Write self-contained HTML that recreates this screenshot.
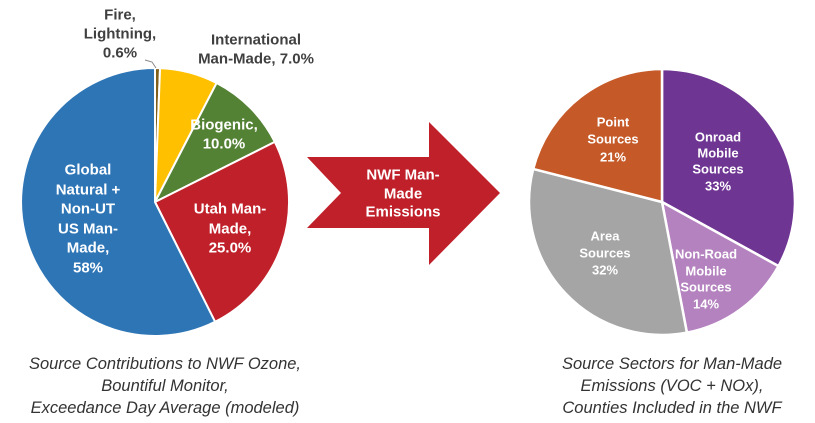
<!DOCTYPE html>
<html><head><meta charset="utf-8"><style>
html,body{margin:0;padding:0;background:#fff;}
svg{display:block;}
.b{font-family:"Liberation Sans",sans-serif;font-weight:bold;text-anchor:middle;dominant-baseline:central;}
.cap{font-family:"Liberation Sans",sans-serif;font-style:italic;font-size:16.5px;fill:#333;text-anchor:middle;}
</style></head><body>
<svg width="815" height="423" viewBox="0 0 815 423">
<g stroke="#fff" stroke-width="2" stroke-linejoin="round">
<path d="M155,202 L155,68 A134,134 0 0 1 160.05,68.1 Z" fill="#7F5F1A"/>
<path d="M155,202 L160.05,68.1 A134,134 0 0 1 216.6,83 Z" fill="#FFC000"/>
<path d="M155,202 L216.6,83 A134,134 0 0 1 274.8,141.9 Z" fill="#548235"/>
<path d="M155,202 L274.8,141.9 A134,134 0 0 1 215.1,321.8 Z" fill="#C0202A"/>
<path d="M155,202 L215.1,321.8 A134,134 0 1 1 155,68 Z" fill="#2E75B6"/>
</g>
<polyline points="145,60 152,62 156,68" fill="none" stroke="#888" stroke-width="1"/>
<g stroke="#fff" stroke-width="2.5" stroke-linejoin="round">
<path d="M662,202 L662,69 A133,133 0 0 1 778.5,266.1 Z" fill="#6F3593"/>
<path d="M662,202 L778.5,266.1 A133,133 0 0 1 686.9,332.6 Z" fill="#B482BF"/>
<path d="M662,202 L686.9,332.6 A133,133 0 0 1 533.2,168.9 Z" fill="#A5A5A5"/>
<path d="M662,202 L533.2,168.9 A133,133 0 0 1 662,69 Z" fill="#C55A28"/>
</g>
<polygon points="307,157 429,157 429,122 500,193 429,265 429,228 307,228 341,193" fill="#C0202A"/>
<g class="b" font-size="15" fill="#fff">
<text x="403" y="175">NWF Man-</text>
<text x="403" y="194">Made</text>
<text x="403" y="212">Emissions</text>
</g>
<g class="b" font-size="15" fill="#404040">
<text x="120" y="15">Fire,</text>
<text x="120" y="34">Lightning,</text>
<text x="120" y="53">0.6%</text>
<text x="256" y="40">International</text>
<text x="256" y="59">Man-Made, 7.0%</text>
</g>
<g class="b" font-size="15" fill="#fff">
<text x="88" y="170">Global</text>
<text x="88" y="190">Natural +</text>
<text x="88" y="209">Non-UT</text>
<text x="88" y="229">US Man-</text>
<text x="88" y="248">Made,</text>
<text x="88" y="268">58%</text>
<text x="224" y="125">Biogenic,</text>
<text x="224" y="144">10.0%</text>
<text x="230" y="209">Utah Man-</text>
<text x="230" y="229">Made,</text>
<text x="230" y="248">25.0%</text>
</g>
<g class="b" font-size="13" fill="#fff">
<text x="613" y="122">Point</text>
<text x="613" y="139">Sources</text>
<text x="613" y="157">21%</text>
<text x="718" y="137">Onroad</text>
<text x="718" y="153">Mobile</text>
<text x="718" y="169">Sources</text>
<text x="718" y="186">33%</text>
<text x="605" y="236">Area</text>
<text x="605" y="253">Sources</text>
<text x="605" y="270">32%</text>
<text x="706" y="254">Non-Road</text>
<text x="706" y="271">Mobile</text>
<text x="706" y="287">Sources</text>
<text x="706" y="304">14%</text>
</g>
<text class="cap" x="165" y="369">Source Contributions to NWF Ozone,</text>
<text class="cap" x="165" y="391">Bountiful Monitor,</text>
<text class="cap" x="165" y="413">Exceedance Day Average (modeled)</text>
<text class="cap" x="672" y="369">Source Sectors for Man-Made</text>
<text class="cap" x="672" y="391">Emissions (VOC + NOx),</text>
<text class="cap" x="672" y="413">Counties Included in the NWF</text>
</svg>
</body></html>
